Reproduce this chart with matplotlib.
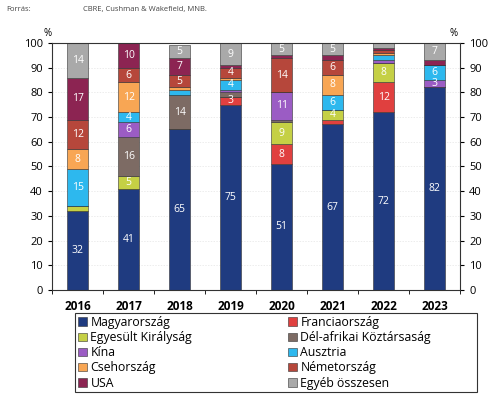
import matplotlib.pyplot as plt
from matplotlib.patches import Rectangle
import numpy as np

plt.rcParams['font.family'] = ['Open Sans', 'DejaVu Sans']

# adatok (%)
years = ['2016', '2017', '2018', '2019', '2020', '2021', '2022', '2023']
series_names = ['Magyarország', 'Franciaország', 'Egyesült Királyság', 'Dél-afrikai Köztársaság',
                'Kína', 'Ausztria', 'Csehország', 'Németország', 'USA', 'Egyéb összesen']
magyar = [32, 41, 65, 75, 51, 67, 72, 82]
francia = [0, 0, 0, 3, 8, 2, 12, 0]
egyesult = [2, 5, 0, 0, 9, 4, 8, 0]
delafrika = [0, 16, 14, 2, 1, 0, 0, 0]
kina = [0, 6, 0, 1, 11, 0, 1, 3]
ausztria = [15, 4, 2, 4, 0, 6, 2, 6]
cseh = [8, 12, 1, 1, 0, 8, 1, 0]
nemet = [12, 6, 5, 4, 14, 6, 1, 0]
usa = [17, 10, 7, 1, 1, 2, 1, 2]
egyeb = [14, 1, 5, 9, 5, 5, 2, 7]
colors = ['#1f3b80', '#e0403f', '#c5d045', '#7d6b64', '#9b5cc4',
          '#2db8ee', '#f8a654', '#b6473b', '#8c2452', '#a9a9a9']


def main():
    data = [magyar, francia, egyesult, delafrika, kina, ausztria, cseh, nemet, usa, egyeb]
    fig = plt.figure(figsize=(4.91, 3.94), dpi=100)
    ax = fig.add_axes([0.106, 0.264, 0.831, 0.627])
    x = np.arange(len(years))
    bottom = np.zeros(len(years))
    handles = []
    for name, vals, col in zip(series_names, data, colors):
        vals = np.array(vals, dtype=float)
        b = ax.bar(x, vals, 0.4, bottom=bottom, color=col, edgecolor='#333333', linewidth=0.4, label=name)
        handles.append(b)
        for xi, v, b0 in zip(x, vals, bottom):
            if v >= 3:  # csak a nagyobb szeletek kapnak feliratot
                ax.text(xi, b0 + v / 2, f'{int(v)}', ha='center', va='center', color='white', fontsize=7.5)
        bottom += vals

    ax.set_xlim(-0.5, len(years) - 0.5)
    ax.set_ylim(0, 100)
    ax.set_yticks(range(0, 101, 10))
    ax.set_xticks(x)
    ax.set_xticklabels(years, fontsize=8.5, fontweight='bold')
    ax.set_xticks(np.arange(-0.5, len(years), 1), minor=True)
    ax.tick_params(axis='x', which='major', length=0, pad=7)
    ax.tick_params(axis='x', which='minor', length=3)
    ax.tick_params(axis='y', labelsize=8, length=3, right=True, labelright=True)
    for yv in range(10, 100, 10):
        ax.axhline(yv, color='#e4e4e4', linewidth=0.5, linestyle=(0, (2, 2)), zorder=0)
    for s in ax.spines.values():
        s.set_color('#333333')
        s.set_linewidth(0.8)

    ax.text(-0.02, 1.015, '%', transform=ax.transAxes, fontsize=7, ha='left', va='bottom')
    ax.text(0.975, 1.015, '%', transform=ax.transAxes, fontsize=7, ha='left', va='bottom')
    fig.text(0.012, 0.975, 'Forrás:', fontsize=5.5, va='center', color='#444444')
    fig.text(0.17, 0.975, 'CBRE, Cushman & Wakefield, MNB.', fontsize=5.5, va='center', color='#444444')

    # jelmagyarázat: soronként olvasva a sorrend egyezzen a halmozással
    order = [0, 2, 4, 6, 8, 1, 3, 5, 7, 9]
    fig.legend([handles[i] for i in order], [series_names[i] for i in order], ncol=2,
               loc='upper left', bbox_to_anchor=(0.153, 0.206), bbox_transform=fig.transFigure,
               fontsize=8.8, frameon=False,
               handlelength=0.7, handleheight=0.7, handletextpad=0.3, columnspacing=7.85,
               labelspacing=0.18, borderpad=0.25, borderaxespad=0)
    # keret a jelmagyarázat köré (szélesebb, mint maga a legenda)
    fig.patches.append(Rectangle((0.153, 0.005), 0.819, 0.201, transform=fig.transFigure,
                                 fill=False, edgecolor='#333333', linewidth=0.8))

    plt.savefig('out.png', dpi=100)


if __name__ == "__main__":
    main()
